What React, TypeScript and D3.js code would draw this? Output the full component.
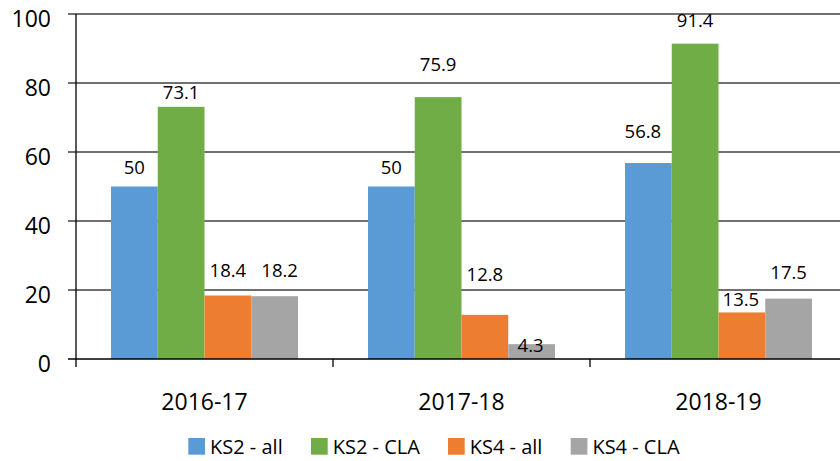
import React, { useEffect, useRef } from "react";
import * as d3 from "d3";

const categories = ["2016-17", "2017-18", "2018-19"];
const seriesNames = ["KS2 - all", "KS2 - CLA", "KS4 - all", "KS4 - CLA"];
const ks2All = [50, 50, 56.8];
const ks2Cla = [73.1, 75.9, 91.4];
const ks4All = [18.4, 12.8, 13.5];
const ks4Cla = [18.2, 4.3, 17.5];
const yTicks = [0, 20, 40, 60, 80, 100];

const seriesValues = [ks2All, ks2Cla, ks4All, ks4Cla];
const colors = ["#5B9BD5", "#70AD47", "#ED7D31", "#A5A5A5"];

// manual label adjustments (px), [series][category]
const labelDy = [
  [-12.5, -12.5, -24.7],
  [-7.8, -26.4, -16.7],
  [-18.5, -33.8, -6.7],
  [-19.2, 7.5, -19.3],
];
const labelDx = [
  [0, 0, -5.5],
  [0, 0, 0],
  [0, 0, -1],
  [5, -1, 0],
];
// legend item left edges (layout)
const legendX = [188.3, 311, 448, 570.7];

const W = 840;
const H = 461;
const FONT = "'Open Sans', sans-serif";

export default function App() {
  const ref = useRef<SVGSVGElement>(null);

  useEffect(() => {
    const svg = d3.select(ref.current);
    svg.selectAll("*").remove();

    const left = 76;
    const bandW = 257;
    const x0 = d3
      .scaleBand<string>()
      .domain(categories)
      .range([left, left + bandW * categories.length])
      .padding(0);
    const bw = x0.bandwidth();
    const pad = (35 / 257) * bw;
    const x1 = d3
      .scaleBand<string>()
      .domain(seriesNames)
      .range([pad, bw - pad])
      .padding(0);
    const y = d3.scaleLinear().domain([0, 100]).range([359, 14]);

    // gridlines
    svg
      .append("g")
      .selectAll("line")
      .data(yTicks.filter((t) => t > 0))
      .join("line")
      .attr("x1", left - 8)
      .attr("x2", W + 10)
      .attr("y1", (d) => y(d))
      .attr("y2", (d) => y(d))
      .attr("stroke", "#404040")
      .attr("stroke-width", 1.3);

    // bars
    seriesValues.forEach((vals, si) => {
      svg
        .append("g")
        .selectAll("rect")
        .data(vals)
        .join("rect")
        .attr("x", (_d, ci) => (x0(categories[ci]) as number) + (x1(seriesNames[si]) as number))
        .attr("width", x1.bandwidth())
        .attr("y", (d) => y(d))
        .attr("height", (d) => y(0) - y(d))
        .attr("fill", colors[si]);
    });

    // axes
    const ax = svg.append("g").attr("stroke", "#000").attr("stroke-width", 1.3);
    ax.append("line").attr("x1", left).attr("x2", left).attr("y1", y(100)).attr("y2", y(0) + 8);
    ax.append("line").attr("x1", left - 8).attr("x2", W + 10).attr("y1", y(0)).attr("y2", y(0));
    categories.slice(1).forEach((c) => {
      const xx = x0(c) as number;
      ax.append("line").attr("x1", xx).attr("x2", xx).attr("y1", y(0)).attr("y2", y(0) + 8);
    });

    // y tick labels
    svg
      .append("g")
      .selectAll("text")
      .data(yTicks)
      .join("text")
      .attr("x", 51)
      .attr("y", (d) => y(d) + 13.4)
      .attr("text-anchor", "end")
      .attr("font-family", FONT)
      .attr("font-size", 23)
      .attr("fill", "#000")
      .text((d) => String(d));

    // category labels
    svg
      .append("g")
      .selectAll("text")
      .data(categories)
      .join("text")
      .attr("x", (d) => (x0(d) as number) + bw / 2)
      .attr("y", 410)
      .attr("text-anchor", "middle")
      .attr("font-family", FONT)
      .attr("font-size", 23)
      .attr("fill", "#000")
      .text((d) => d);

    // data labels
    seriesValues.forEach((vals, si) => {
      svg
        .append("g")
        .selectAll("text")
        .data(vals)
        .join("text")
        .attr(
          "x",
          (_d, ci) =>
            (x0(categories[ci]) as number) +
            (x1(seriesNames[si]) as number) +
            x1.bandwidth() / 2 +
            labelDx[si][ci]
        )
        .attr("y", (d, ci) => y(d) + labelDy[si][ci])
        .attr("text-anchor", "middle")
        .attr("font-family", FONT)
        .attr("font-size", 18.5)
        .attr("fill", "#000")
        .text((d) => String(d));
    });

    // legend
    const lg = svg.append("g");
    seriesNames.forEach((name, i) => {
      const lx = legendX[i];
      lg.append("rect")
        .attr("x", lx)
        .attr("y", 438)
        .attr("width", 16.7)
        .attr("height", 16.7)
        .attr("fill", colors[i]);
      lg.append("text")
        .attr("x", lx + 21.7)
        .attr("y", 454)
        .attr("font-family", FONT)
        .attr("font-size", 20)
        .attr("fill", "#000")
        .text(name);
    });
  }, []);

  return (
    <svg
      ref={ref}
      width={W}
      height={H}
      style={{ position: "absolute", left: 0, top: 0, background: "#fff", overflow: "hidden" }}
    />
  );
}
